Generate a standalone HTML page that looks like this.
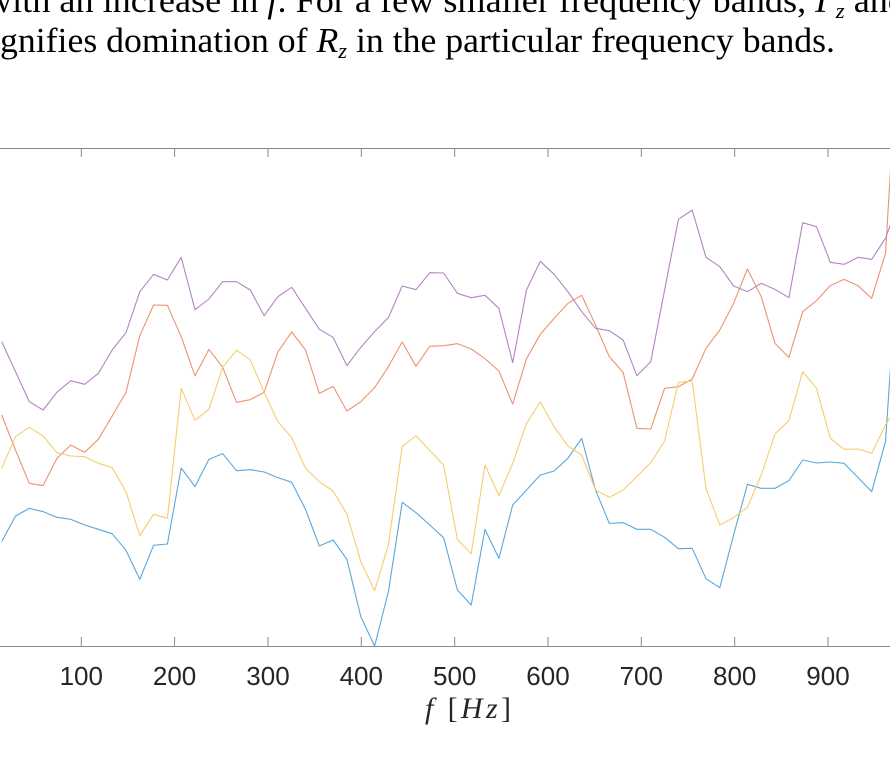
<!DOCTYPE html>
<html><head><meta charset="utf-8"><style>
html,body{margin:0;padding:0;background:#fff;}
svg{display:block;}
</style></head><body>
<svg width="890" height="757" viewBox="0 0 890 757" xmlns="http://www.w3.org/2000/svg">
<text x="-14" y="12" font-family="Liberation Serif, serif" font-size="35" fill="#000" textLength="920" lengthAdjust="spacingAndGlyphs">with an increase in <tspan font-style="italic">f</tspan>. For a few smaller frequency bands, <tspan font-style="italic">Γ<tspan font-size="22" dy="6">z</tspan></tspan><tspan dy="-6"> and</tspan></text>
<text x="0" y="52" font-family="Liberation Serif, serif" font-size="35" fill="#000" textLength="835" lengthAdjust="spacingAndGlyphs">gnifies domination of <tspan font-style="italic">R</tspan><tspan font-style="italic" font-size="22" dy="6">z</tspan><tspan dy="-6"> in the particular frequency bands.</tspan></text>

<g stroke="#8a8a8a" stroke-width="1" fill="none">
<line x1="0" y1="148.5" x2="890" y2="148.5"/>
<line x1="0" y1="646.5" x2="890" y2="646.5"/>
<path d="M81.3 148v9M174.6 148v9M268 148v9M361.3 148v9M454.7 148v9M548 148v9M641.3 148v9M734.7 148v9M828 148v9
M81.3 646v-9M174.6 646v-9M268 646v-9M361.3 646v-9M454.7 646v-9M548 646v-9M641.3 646v-9M734.7 646v-9M828 646v-9"/>
</g>

<svg x="0" y="148" width="890" height="499" viewBox="0 148 890 499" overflow="hidden">
<g transform="translate(0,140) scale(1,0.333333)" fill="none" stroke-width="1.1" stroke-linejoin="round">
<polyline vector-effect="non-scaling-stroke" stroke="#5aa7dc" points="1.7,1205 15.5,1128 29.3,1105 43.1,1115 56.9,1132 70.8,1138 84.6,1155 98.4,1168 112.2,1181 126,1231 139.8,1318 153.6,1216 167.4,1212 181.2,984 195,1040 208.9,958 222.7,941 236.5,992 250.3,989 264.1,996 277.9,1013 291.7,1027 305.5,1108 319.3,1218 333.1,1200 346.9,1258 360.8,1430 374.6,1518 388.4,1355 402.2,1087 416,1118 429.8,1155 443.6,1193 457.4,1350 471.2,1395 485,1168 498.9,1255 512.7,1095 526.5,1050 540.3,1005 554.1,993 567.9,955 581.7,895 595.5,1050 609.3,1150 623.1,1148 636.9,1168 650.8,1168 664.6,1192 678.4,1226 692.2,1225 706,1316 719.8,1343 733.6,1185 747.4,1033 761.2,1045 775,1045 788.9,1022 802.7,960 816.5,969 830.3,966 844.1,970 857.9,1012 871.7,1055 885.5,905 899.3,290"/>
<polyline vector-effect="non-scaling-stroke" stroke="#ea9470" points="1.7,825 15.5,930 29.3,1030 43.1,1037 56.9,955 70.8,915 84.6,937 98.4,898 112.2,828 126,757 139.8,587 153.6,495 167.4,496 181.2,590 195,708 208.9,628 222.7,682 236.5,787 250.3,779 264.1,757 277.9,636 291.7,576 305.5,630 319.3,760 333.1,739 346.9,813 360.8,785 374.6,743 388.4,680 402.2,606 416,679 429.8,619 443.6,617 457.4,611 471.2,627 485,656 498.9,693 512.7,792 526.5,656 540.3,583 554.1,535 567.9,490 581.7,466 595.5,555 609.3,650 623.1,697 636.9,865 650.8,867 664.6,745 678.4,740 692.2,717 706,625 719.8,570 733.6,490 747.4,387 761.2,470 775,610 788.9,652 802.7,515 816.5,482 830.3,437 844.1,418 857.9,437 871.7,475 885.5,340 899.3,-350"/>
<polyline vector-effect="non-scaling-stroke" stroke="#f5cd6e" points="1.7,985 15.5,890 29.3,862 43.1,888 56.9,938 70.8,948 84.6,950 98.4,970 112.2,983 126,1055 139.8,1187 153.6,1123 167.4,1135 181.2,745 195,841 208.9,808 222.7,682 236.5,631 250.3,659 264.1,757 277.9,845 291.7,893 305.5,985 319.3,1025 333.1,1053 346.9,1122 360.8,1265 374.6,1352 388.4,1215 402.2,920 416,887 429.8,932 443.6,975 457.4,1198 471.2,1241 485,975 498.9,1067 512.7,970 526.5,850 540.3,786 554.1,860 567.9,918 581.7,945 595.5,1050 609.3,1072 623.1,1050 636.9,1010 650.8,968 664.6,903 678.4,727 692.2,723 706,1045 719.8,1155 733.6,1133 747.4,1102 761.2,1005 775,882 788.9,842 802.7,695 816.5,745 830.3,895 844.1,928 857.9,927 871.7,940 885.5,855 899.3,790"/>
<polyline vector-effect="non-scaling-stroke" stroke="#b384c3" points="1.7,605 15.5,695 29.3,785 43.1,810 56.9,757 70.8,722 84.6,733 98.4,700 112.2,630 126,578 139.8,455 153.6,403 167.4,420 181.2,352 195,509 208.9,477 222.7,425 236.5,425 250.3,450 264.1,527 277.9,470 291.7,442 305.5,505 319.3,568 333.1,592 346.9,677 360.8,622 374.6,575 388.4,533 402.2,438 416,449 429.8,398 443.6,399 457.4,460 471.2,473 485,466 498.9,505 512.7,668 526.5,450 540.3,364 554.1,403 567.9,455 581.7,515 595.5,565 609.3,572 623.1,600 636.9,707 650.8,665 664.6,450 678.4,238 692.2,210 706,352 719.8,380 733.6,438 747.4,455 761.2,430 775,448 788.9,473 802.7,248 816.5,260 830.3,367 844.1,373 857.9,352 871.7,358 885.5,295 899.3,180"/>
</g>
</svg>

<g font-family="Liberation Sans, Arial, sans-serif" font-size="26" fill="#262626" text-anchor="middle">
<text x="81.3" y="685">100</text>
<text x="174.6" y="685">200</text>
<text x="268" y="685">300</text>
<text x="361.3" y="685">400</text>
<text x="454.7" y="685">500</text>
<text x="548" y="685">600</text>
<text x="641.3" y="685">700</text>
<text x="734.7" y="685">800</text>
<text x="828" y="685">900</text>
</g>
<text x="468" y="718" font-family="Liberation Serif, serif" font-size="30" fill="#262626" text-anchor="middle" textLength="86" lengthAdjust="spacing"><tspan font-style="italic">f</tspan> [<tspan font-style="italic">Hz</tspan>]</text>
</svg>
</body></html>
